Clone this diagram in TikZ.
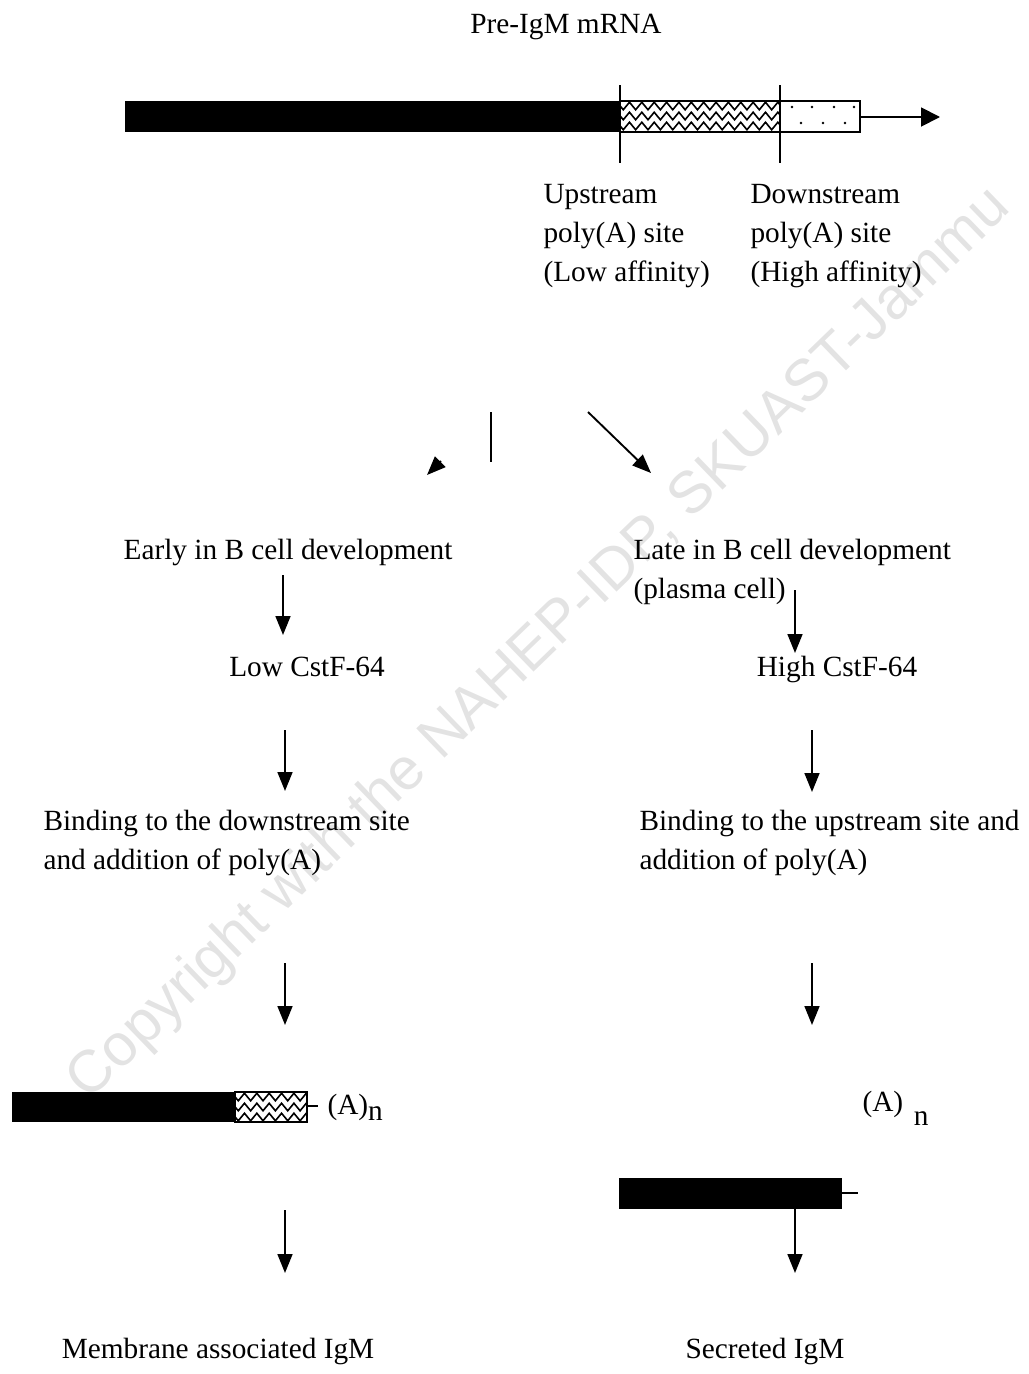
\documentclass[tikz,border=0pt]{standalone}
\usepackage{fontspec}
\setmainfont{Liberation Serif}
\setsansfont{Liberation Sans}
\usetikzlibrary{arrows.meta, decorations.pathmorphing}

\begin{document}
\begin{tikzpicture}[
  x=0.372pt, y=-0.372pt,
  >={Triangle[length=7pt, width=5.5pt]},
  txt/.style={font=\fontsize{10.9}{14.5}\selectfont, inner sep=0pt, align=left},
  flow/.style={->, line width=0.7pt},
  tick/.style={line width=0.5pt},
  wavy/.style={decorate, decoration={zigzag, segment length=4.6pt, amplitude=1.4pt}, line width=0.6pt}
]
  \useasboundingbox (0,0) rectangle (1029,1374);

  % watermark
  \node[font=\sffamily\fontsize{22}{22}\selectfont, text=gray!22, rotate=44] (wm) at (540,645) {Copyright with the NAHEP-IDP, SKUAST-Jammu};

  \node[txt, anchor=base] (title) at (566,33) {Pre-IgM mRNA};

  % pre-mRNA with the two poly(A) sites
  \fill (125,101) rectangle (620,132);
  \draw[tick] (620,101) rectangle (780,132);
  \draw[tick] (780,101) rectangle (860,132);
  \begin{scope}
    \clip (620,101) rectangle (780,132);
    \foreach \yy in {106,116,126}
      \draw[wavy] (614,\yy) -- (790,\yy);
  \end{scope}
  \foreach \xx in {792,812,834,854}
    \fill (\xx,107) circle (1.4);
  \foreach \xx in {801,823,845}
    \fill (\xx,123) circle (1.4);
  \coordinate (tailA) at (860,117);
  \coordinate (tipA) at (940,117);
  \draw[flow, >={Triangle[length=7pt, width=7pt]}] (tailA) -- (tipA);
  \draw[tick] (620,85) -- (620,163);
  \draw[tick] (780,85) -- (780,163);

  % base anchor sits on the last line
  \node[txt, anchor=base west] (up) at (543,281) {Upstream\\poly(A) site\\(Low affinity)};
  \node[txt, anchor=base west] (down) at (750,281) {Downstream\\poly(A) site\\(High affinity)};

  % split
  \coordinate (splitA) at (491,412);
  \coordinate (splitB) at (491,462);
  \draw[line width=0.7pt] (splitA) -- (splitB);
  \coordinate (leftT) at (441,461);
  \coordinate (leftH) at (427,475);
  \draw[flow] (leftT) -- (leftH);
  \coordinate (rightT) at (588,412);
  \coordinate (rightH) at (651,473);
  \draw[flow] (rightT) -- (rightH);

  % early
  \node[txt, anchor=base] (early) at (288,559) {Early in B cell development};
  \node[txt, anchor=base] (lowcst) at (307,676) {Low CstF-64};
  \node[txt, anchor=base west] (bindlow) at (43,869) {Binding to the downstream site\\and addition of poly(A)};
  \node[txt, anchor=base] (membrane) at (218,1358) {Membrane associated IgM};

  \coordinate (l1) at (283,575);  \coordinate (l2) at (283,635);
  \coordinate (l3) at (285,730);  \coordinate (l4) at (285,791);
  \coordinate (l5) at (285,963);  \coordinate (l6) at (285,1025);
  \coordinate (l7) at (285,1210); \coordinate (l8) at (285,1273);
  \draw[flow] (l1) -- (l2);
  \draw[flow] (l3) -- (l4);
  \draw[flow] (l5) -- (l6);
  \draw[flow] (l7) -- (l8);

  \fill (12,1092) rectangle (235,1122);
  \draw[tick] (235,1092) rectangle (307,1122);
  \begin{scope}
    \clip (235,1092) rectangle (307,1122);
    \foreach \yy in {1097,1107,1117}
      \draw[wavy] (229,\yy) -- (317,\yy);
  \end{scope}
  \node[txt, anchor=base west] (polyL) at (327,1114) {(A)\raisebox{-2.5pt}{n}};
  \coordinate (endL) at (307,1106);
  \coordinate (tailL) at (318,1106);
  \draw[tick] (endL) -- (tailL);

  % late
  \node[txt, anchor=base west] (late) at (633,598) {Late in B cell development\\(plasma cell)};
  \node[txt, anchor=base] (highcst) at (837,676) {High CstF-64};
  \node[txt, anchor=base west] (bindhigh) at (639,869) {Binding to the upstream site and\\addition of poly(A)};
  \node[txt, anchor=base] (secreted) at (765,1358) {Secreted IgM};

  \coordinate (r1) at (795,590);  \coordinate (r2) at (795,653);
  \coordinate (r3) at (812,730);  \coordinate (r4) at (812,792);
  \coordinate (r5) at (812,963);  \coordinate (r6) at (812,1025);
  \coordinate (r7) at (795,1209); \coordinate (r8) at (795,1273);
  \draw[flow] (r1) -- (r2);
  \draw[flow] (r3) -- (r4);
  \draw[flow] (r5) -- (r6);
  \draw[flow] (r7) -- (r8);

  \node[txt, anchor=base west] (polyR) at (862,1111) {(A)\hspace{4pt}\raisebox{-5.5pt}{n}};
  \fill (619,1178) rectangle (842,1209);
  \coordinate (endR) at (842,1193);
  \coordinate (tailR) at (858,1193);
  \draw[tick] (endR) -- (tailR);
\end{tikzpicture}
\end{document}
